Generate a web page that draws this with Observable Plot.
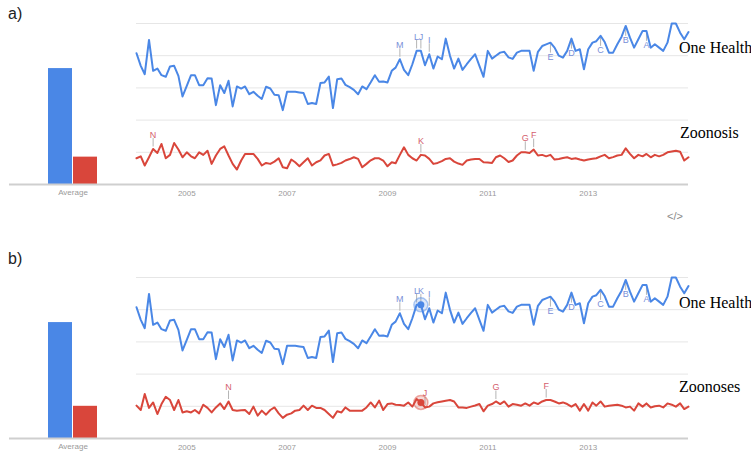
<!DOCTYPE html>
<html><head><meta charset="utf-8">
<script src="https://cdn.jsdelivr.net/npm/d3@7"></script>
<script src="https://cdn.jsdelivr.net/npm/@observablehq/plot@0.6"></script>
<style>
body{margin:0;background:#fff;}
#root{position:relative;width:751px;height:455px;overflow:hidden;font-family:"Liberation Sans",Arial,sans-serif;background:#fff;}
.abs{position:absolute;}
.panel-label{font-size:16px;line-height:16px;color:#222;}
.series-label{font-family:"Liberation Serif","Times New Roman",serif;font-size:16px;line-height:16px;color:#000;white-space:nowrap;}
.embed{font-size:11px;line-height:11px;color:#8a8a8a;}
</style></head><body><div id="root"></div>
<script>
// ---------- data ----------
const startYear = 2004; // monthly series starting January 2004
const tickYears = [2005, 2007, 2009, 2011, 2013];
const averageTerms = ["One Health", "Zoonosis"];
const averageA = [72, 17];
const averageTermsB = ["One Health", "Zoonoses"];
const averageB = [72, 20];

const oneHealth = [81.5,73.7,68.5,89.8,70.6,72,67.9,66.9,73.3,73.7,
67.5,54.7,61.3,67.9,67.9,61.7,61.7,66,65.8,49.3,
61.7,56.8,64.4,48.5,60.9,59.6,60.9,56.1,57.6,55.1,
53.1,60.7,59.6,55.7,55.5,46.2,57.6,57.6,57.6,57.2,
56.8,50,50.6,50,63,63.4,67,47.5,65.4,65.8,
61.9,60.5,58.8,56.1,60.9,59.2,63.5,67.9,63.8,64,
63.4,70.6,72.6,77.8,71.2,67.9,74.7,83,83,74.1,
80.9,72,79.5,77.8,90.6,79.9,72,78.2,71.2,74.7,
78,80.9,73.7,66.9,83,78.2,80,81.9,82.4,79,
78,81.9,83,83,83,70.6,82.4,86,87,88.1,
85,80,78.8,83,90.6,83,84,71.6,84,88.1,
89,92.3,88.5,81.9,81.9,87.1,91.8,98.5,91.2,85,
90.2,95.4,95.4,85,87.1,85,83,88.1,100,100,
94.3,90.2,94.7];

const zoonosis = [16.3,17.5,11.8,16.9,22.1,19.6,25.2,16.3,18.4,25.8,
21.7,16.9,20,17.5,16.3,20,18.4,21,12.8,18,
22.1,23.7,18,12.8,9.3,14.9,19,19,19,15.9,
11.8,13.4,12.8,14.2,16.3,10.7,10.1,15.5,13.8,11.3,
13.8,16.3,11.8,13.8,15,18,19,11.8,12.5,13.4,
14.9,15.8,16.9,15.9,10.7,12.8,15,16.3,16.3,14.9,
11.3,13.8,13.2,18.4,23.1,18.4,16.3,14.9,18.4,18,
15.9,12.8,13.4,14.5,15.9,16.3,14.2,13,12.2,14.9,
15.5,15.9,15.9,13.8,13.6,13.4,16.9,18,16.3,14,
14.9,18,20,20,19.6,21.7,18,18.4,17.5,18.4,
15.5,15.9,16.4,16.9,15.9,16.3,15.5,14.9,15.5,16,
16.3,17.5,18.4,16.3,17,18,18.4,22.5,19,16.3,
18.4,17.5,19,16.9,18.4,17.5,18.4,20,20.5,21,
20.4,14.9,16.9];

const zoonoses = [20.4,17.7,27.6,19,22.4,15.2,21.4,25.9,23.9,17.7,
23.9,16.2,16.9,16.2,17.7,15.6,21,19,16.2,19.3,
21.8,18.3,23,17.7,17.3,17.5,17.7,15.2,19.8,14.2,
17.3,14.8,17.7,19.3,15.6,12.8,14.8,15.6,17.3,17.7,
20.4,17.7,20.4,19,19,17.7,15.2,12.8,16.9,16.2,
19.3,17.3,17.3,17.3,17.3,19.3,22.4,19.3,23.5,17.7,
21.4,21.8,21,20.8,20.4,22.4,19.8,24.5,22.4,19.3,
19.8,21.8,22.5,23,23.5,23.9,23,19.3,19.2,19,
19.8,20.5,21.4,16.9,20.4,21.4,23,21.4,23,19.8,
21.4,21,20.4,21.8,20.4,22.4,21.4,23,23.9,23.9,
23,21.8,22.4,21.4,19.8,21.4,17.3,21.4,17.3,22.4,
20.4,23,19.8,20.4,20.7,21,20.4,19.3,19.8,17.3,
21.8,19.8,21.8,19.3,20,20.4,19.3,21.8,21,19.8,
21.8,18.3,19.8];

// news annotations: letter + month index
const blueLettersA = ["M","L","J","I","E","D","C","B","A"];
const blueMonthsA  = [63,67,68,70,99,104,111,117,122];
const redLettersA  = ["N","K","G","F"];
const redMonthsA   = [4,68,93,95];
const blueLettersB = ["M","L","K","I","E","D","C","B","A"];
const blueMonthsB  = [63,67,68,70,99,104,111,117,122];
const redLettersB  = ["N","J","G","F"];
const redMonthsB   = [22,69,86,98];
const hoverMonthB  = 68;

// ---------- style ----------
const BLUE = "#4a87e6", RED = "#d9463b";
const BLUE_TXT = "#7a90d8", RED_TXT = "#d4606e";
const hangBelow = new Set(["E","D","C","B","A"]);
const FONT = "Liberation Sans, Arial, sans-serif";

const dates = oneHealth.map((_, i) => new Date(Date.UTC(startYear, i, 1)));
const series = vals => vals.map((v, i) => ({date: dates[i], value: v}));
const ann = (letters, months, vals) => letters.map((l, k) => ({
  letter: l, date: dates[months[k]], value: vals[months[k]], below: hangBelow.has(l)
}));

function barPlot(terms, avgs) {
  const rows = terms.map((t, i) => ({term: t, value: avgs[i]}));
  return Plot.plot({
    width: 136, height: 230, marginLeft: 9, marginRight: 0, marginTop: 23, marginBottom: 46,
    style: {background: "transparent", overflow: "visible", fontFamily: FONT},
    x: {domain: terms, range: [47, 98], padding: 0.03, axis: null},
    y: {domain: [0, 100], axis: null},
    color: {domain: terms, range: [BLUE, RED]},
    marks: [
      Plot.barY(rows, {x: "term", y: "value", fill: "term"}),
      Plot.ruleY([0], {stroke: "#cfcfcf", strokeWidth: 2}),
      Plot.text(["Average"], {text: d => d, frameAnchor: "bottom", dy: 10, fontSize: 8, fill: "#9a9a9a"})
    ]
  });
}

function linePlot(redVals, blueAnn, redAnn, hoverIdx) {
  const blue = series(oneHealth), red = series(redVals);
  const all = [...blueAnn.map(d => ({...d, c: BLUE_TXT})), ...redAnn.map(d => ({...d, c: RED_TXT}))];
  const marks = [
    Plot.gridY([20, 40, 60, 80, 100], {stroke: "#e6e6e6", strokeOpacity: 1}),
    Plot.ruleY([0], {stroke: "#cfcfcf", strokeWidth: 2}),
    Plot.axisX(tickYears.map(y => new Date(Date.UTC(y, 0, 1))), {
      tickSize: 0, tickPadding: 6, fontSize: 8, color: "#9a9a9a", tickFormat: d3.utcFormat("%Y")
    }),
    Plot.ruleX(all, {x: "date", y1: d => d.value + (d.below ? -1.2 : 1.2), y2: d => d.value + (d.below ? -6.5 : 6.5), stroke: "#b4b4b4", strokeWidth: 1}),
    Plot.line(red, {x: "date", y: "value", stroke: RED, strokeWidth: 2}),
    Plot.line(blue, {x: "date", y: "value", stroke: BLUE, strokeWidth: 2}),
    Plot.text(all, {x: "date", y: "value", text: "letter", dy: d => 0, fill: "c", fontSize: 9})
  ];
  // text dy per-datum: split into above/below marks
  marks.pop();
  marks.push(Plot.text(all.filter(d => !d.below), {x: "date", y: "value", text: "letter", dy: -14, fill: "c", fontSize: 9}));
  marks.push(Plot.text(all.filter(d => d.below), {x: "date", y: "value", text: "letter", dy: 14, fill: "c", fontSize: 9}));
  if (hoverIdx != null) {
    const h = [{date: dates[hoverIdx], value: oneHealth[hoverIdx], c: BLUE}, {date: dates[hoverIdx], value: redVals[hoverIdx], c: RED}];
    marks.push(Plot.dot(h, {x: "date", y: "value", r: 7, fill: "c", fillOpacity: 0.2, stroke: "c", strokeOpacity: 0.45}));
    marks.push(Plot.dot(h, {x: "date", y: "value", r: 3.5, fill: "c"}));
  }
  return Plot.plot({
    width: 615, height: 230, marginLeft: 0, marginRight: 63, marginTop: 23, marginBottom: 46,
    style: {background: "transparent", overflow: "visible", fontFamily: FONT},
    x: {type: "utc", domain: [dates[0], dates[dates.length - 1]]},
    y: {domain: [0, 100], axis: null},
    marks
  });
}

const root = document.getElementById("root");
function place(el, left, top) {
  const d = document.createElement("div");
  d.className = "abs"; d.style.left = left + "px"; d.style.top = top + "px";
  d.appendChild(el); root.appendChild(d); return d;
}
function label(text, cls, left, top) {
  const d = document.createElement("div");
  d.className = "abs " + cls; d.style.left = left + "px"; d.style.top = top + "px";
  d.textContent = text; root.appendChild(d);
}

// panel a
place(barPlot(averageTerms, averageA), 0, 0);
place(linePlot(zoonosis, ann(blueLettersA, blueMonthsA, oneHealth), ann(redLettersA, redMonthsA, zoonosis), null), 136, 0);
label("a)", "panel-label", 8, 6);
label("One Health", "series-label", 679, 40);
label("Zoonosis", "series-label", 680, 125);
label("</>", "embed", 667, 211);

// panel b
place(barPlot(averageTermsB, averageB), 0, 254);
place(linePlot(zoonoses, ann(blueLettersB, blueMonthsB, oneHealth), ann(redLettersB, redMonthsB, zoonoses), hoverMonthB), 136, 254);
label("b)", "panel-label", 8, 251);
label("One Health", "series-label", 679, 295);
label("Zoonoses", "series-label", 679, 379);
</script></body></html>
